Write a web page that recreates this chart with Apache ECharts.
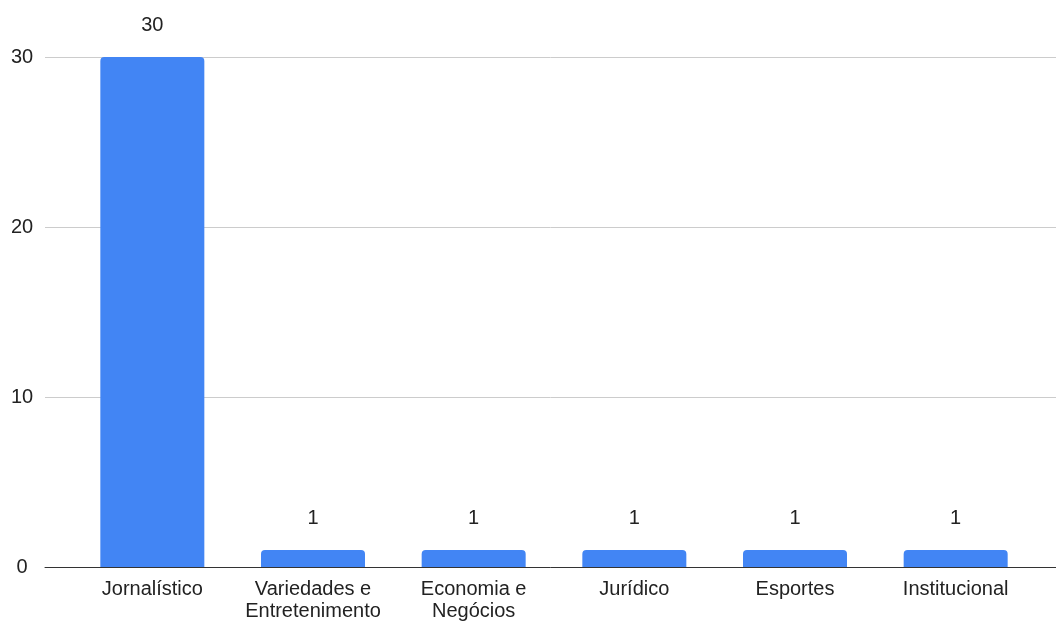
<!DOCTYPE html>
<html>
<head>
<meta charset="utf-8">
<script src="https://cdn.jsdelivr.net/npm/echarts@6/dist/echarts.min.js"></script>
<style>
html,body{margin:0;padding:0;background:#fff;}
#c{width:1056px;height:621px;}
</style>
</head>
<body>
<div id="c"></div>
<script>
const categories = ["Jornalístico", "Variedades e\nEntretenimento", "Economia e\nNegócios", "Jurídico", "Esportes", "Institucional"];
const values = [30, 1, 1, 1, 1, 1];
const yTicks = [0, 10, 20, 30];

const FONT = "Arial, 'Liberation Sans', sans-serif";
const chart = echarts.init(document.getElementById('c'), null, {renderer: 'canvas'});
chart.setOption({
  animation: false,
  backgroundColor: '#fff',
  grid: [
    {left: 45, right: 0, top: 57, bottom: 54, containLabel: false, outerBoundsMode: 'none'},
    {left: 72, right: 20, top: 57, bottom: 54, containLabel: false, outerBoundsMode: 'none'}
  ],
  xAxis: [
    {type: 'category', gridIndex: 0, data: categories,
     axisLine: {show: true, lineStyle: {color: '#333', width: 1}},
     axisTick: {show: false}, axisLabel: {show: false}, splitLine: {show: false}},
    {type: 'category', gridIndex: 1, data: categories,
     axisLine: {show: false}, axisTick: {show: false},
     axisLabel: {show: true, color: '#222', fontSize: 20, fontFamily: FONT, margin: 11, lineHeight: 22, interval: 0}}
  ],
  yAxis: [
    {type: 'value', gridIndex: 0, min: yTicks[0], max: yTicks[yTicks.length-1], interval: 10,
     axisLine: {show: false}, axisTick: {show: false},
     axisLabel: {color: '#222', fontSize: 20, fontFamily: FONT, margin: 23, align: 'center'},
     splitLine: {show: true, lineStyle: {color: '#cccccc', width: 1}}},
    {type: 'value', gridIndex: 1, min: yTicks[0], max: yTicks[yTicks.length-1], interval: 10, show: false,
     splitLine: {show: false}}
  ],
  series: [{
    type: 'bar', xAxisIndex: 1, yAxisIndex: 1, data: values,
    barWidth: 104,
    itemStyle: {color: '#4285F4', borderRadius: [4, 4, 0, 0]},
    label: {show: true, position: 'top', distance: 22, color: '#222', fontSize: 20, fontFamily: FONT}
  }]
});
</script>
</body>
</html>
